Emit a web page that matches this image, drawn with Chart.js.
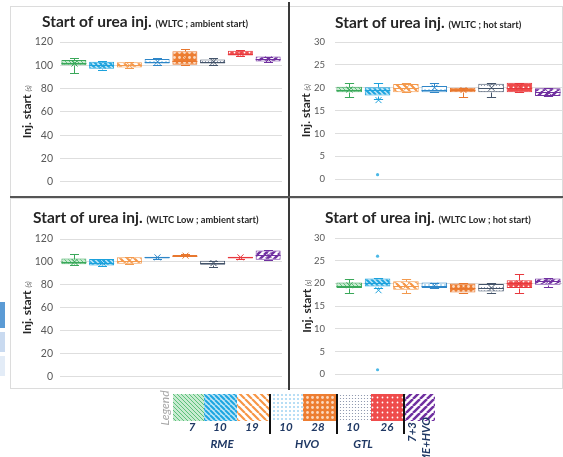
<!DOCTYPE html>
<html>
<head>
<meta charset="utf-8">
<script src="https://cdn.jsdelivr.net/npm/chart.js@4.4.1/dist/chart.umd.min.js"></script>
<style>
  body { margin: 0; background: #fff; }
  #page { position: relative; width: 563px; height: 457px; overflow: hidden; background: #fff; }
  canvas { position: absolute; }
  .frame { position: absolute; border: 1px solid #dcdcdc; box-sizing: border-box; }
  .rule { position: absolute; background: #3a3a3a; }
  .tab { position: absolute; left: 0; width: 5px; }
</style>
</head>
<body>
<div id="page">
  <div class="frame" style="left:10px; top:6px; width:280px; height:191px;"></div>
  <div class="frame" style="left:289px; top:6px; width:274px; height:191px;"></div>
  <div class="frame" style="left:10px; top:198px; width:280px; height:191px;"></div>
  <div class="frame" style="left:289px; top:198px; width:274px; height:191px;"></div>
  <div class="rule" style="left:288px; top:2px; width:2px; height:388px;"></div>
  <div class="rule" style="left:10px; top:196px; width:553px; height:2px; background:#555;"></div>
  <div class="tab" style="top:302px; height:26px; background:#5b9bd5;"></div>
  <div class="tab" style="top:332px; height:20px; background:#c9daf0;"></div>
  <div class="tab" style="top:356px; height:20px; background:#e3ecf7;"></div>

  <canvas id="c1" width="276" height="195" style="left:12px; top:0px;"></canvas>
  <canvas id="c2" width="272" height="195" style="left:291px; top:0px;"></canvas>
  <canvas id="c3" width="276" height="191" style="left:12px; top:199px;"></canvas>
  <canvas id="c4" width="272" height="191" style="left:291px; top:199px;"></canvas>
  <canvas id="legend" width="563" height="72" style="left:0px; top:385px;"></canvas>
</div>
<script>
// fuels, in the order they appear on every panel
const categories = ['RME 7', 'RME 10', 'RME 19', 'HVO 10', 'HVO 28', 'GTL 10', 'GTL 26', 'RME+HVO 7+3'];
const legendNumbers = ['7', '10', '19', '10', '28', '10', '26'];
const legendGroups = ['RME', 'HVO', 'GTL'];

// WLTC, ambient start (s)
const ambMin = [93, 96, 98, 100, 100, 100, 108, 103];
const ambQ1 = [100, 97, 98, 101.5, 100.5, 101.5, 108.5, 103.2];
const ambMed = [102, 100, 100, 103, 104, 103, 110, 105];
const ambQ3 = [104.5, 103, 102.5, 105.5, 112, 105, 112.5, 107.5];
const ambMax = [106, 103.5, 103, 106, 114, 106, 113, 107.5];
const ambMean = [101.5, 99.5, 100, 103, 106, 103, 110.5, 105];

// WLTC, hot start (s)
const hotMin = [18, 17.5, 19, 19, 18, 18, 19, 18.2];
const hotQ1 = [19, 18.3, 19, 19, 19, 19, 19, 18.2];
const hotMed = [19.5, 19.5, 20, 19.5, 19.5, 20, 20, 19];
const hotQ3 = [20.2, 20.1, 20.8, 20.4, 20, 20.9, 21.1, 19.9];
const hotMax = [21, 21, 21, 21, 20, 21.1, 21.1, 19.9];
const hotMean = [19.6, 17.3, 20, 20, 19.5, 20, 20.2, 19];
const hotOutliers = [[], [1], [], [], [], [], [], []];

// WLTC Low, ambient start (s)
const lowAmbMin = [97, 96.5, 98.5, 103, 105, 96, 103, 102];
const lowAmbQ1 = [98, 97, 98.5, 103, 105, 97.5, 103, 102];
const lowAmbMed = [100, 99.5, 101, 104, 105.5, 99, 104, 106];
const lowAmbQ3 = [103, 102.5, 104, 104.5, 106, 101, 104.5, 110];
const lowAmbMax = [106.5, 103, 104, 104.5, 106.5, 101, 104.5, 110.5];
const lowAmbMean = [100, 99.5, 101, 104, 105.5, 99, 104, 106];

// WLTC Low, hot start (s)
const lowHotMin = [18, 19, 18, 19, 18, 18, 18, 19.2];
const lowHotQ1 = [19, 19.3, 18.6, 19, 18, 18.2, 19, 19.7];
const lowHotMed = [19.5, 20, 19.5, 19.5, 19, 19, 20, 20.5];
const lowHotQ3 = [20.2, 21.1, 20.5, 20.2, 20, 19.9, 20.7, 21.1];
const lowHotMax = [21, 21.1, 21, 20.2, 20, 20, 22, 21.1];
const lowHotMean = [19.6, 18.5, 19.5, 19.5, 19, 19, 20, 20.5];
const lowHotOutliers = [[], [26, 1], [], [], [], [], [], []];

const seriesColors = ['#3aa85a', '#1ba1dc', '#f39a4e', '#2e86c8', '#e8772e', '#44546a', '#e8383d', '#7030a0'];
const fillStyles = [
  { kind: 'back', size: 4, w: 1, fg: '#5cc17a', bg: '#c8ebd1' },
  { kind: 'back', size: 5, w: 2, fg: '#1ea5e0', bg: '#bfe6f7' },
  { kind: 'back', size: 7, w: 2.2, fg: '#f79646', bg: '#ffffff' },
  { kind: 'dots', size: 4, r: 0.8, fg: '#5fb3e8', bg: '#ffffff' },
  { kind: 'dots', size: 5, r: 1.4, fg: '#fbd9c0', bg: '#ed7d31' },
  { kind: 'dots', size: 3, r: 0.6, fg: '#7f8aa3', bg: '#ffffff' },
  { kind: 'dots', size: 5, r: 0.9, fg: '#ffffff', bg: '#ef4b4b' },
  { kind: 'fwd', size: 7, w: 2.5, fg: '#7030a0', bg: '#ffffff' }
];

function makePattern(st) {
  const c = document.createElement('canvas');
  const s = st.size;
  c.width = c.height = s;
  const g = c.getContext('2d');
  g.fillStyle = st.bg;
  g.fillRect(0, 0, s, s);
  g.strokeStyle = st.fg;
  g.fillStyle = st.fg;
  if (st.kind === 'dots') {
    g.beginPath();
    g.arc(s / 2, s / 2, st.r, 0, Math.PI * 2);
    g.fill();
  } else {
    g.lineWidth = st.w;
    g.beginPath();
    for (let k = -1; k <= 1; k++) {
      if (st.kind === 'back') {
        g.moveTo(k * s, 0); g.lineTo(k * s + s, s);
      } else {
        g.moveTo(k * s, s); g.lineTo(k * s + s, 0);
      }
    }
    g.stroke();
  }
  return g.createPattern(c, 'repeat');
}

const patterns = fillStyles.map(makePattern);

// whiskers, medians, means and outliers on top of the Q1-Q3 bars
const boxWhiskers = {
  id: 'boxWhiskers',
  afterDatasetsDraw(chart, args, opts) {
    const ctx = chart.ctx;
    const y = chart.scales.y;
    const bars = chart.getDatasetMeta(0).data;
    ctx.save();
    bars.forEach((bar, i) => {
      const col = seriesColors[i];
      const half = bar.width / 2;
      const cap = bar.width * 0.18;
      const x = Math.round(bar.x) + 0.5;
      const py = v => Math.round(y.getPixelForValue(v)) + 0.5;
      ctx.strokeStyle = col;
      ctx.lineWidth = 1;
      ctx.beginPath();
      ctx.moveTo(x, py(opts.q3[i])); ctx.lineTo(x, py(opts.max[i]));
      ctx.moveTo(x - cap, py(opts.max[i])); ctx.lineTo(x + cap, py(opts.max[i]));
      ctx.moveTo(x, py(opts.q1[i])); ctx.lineTo(x, py(opts.min[i]));
      ctx.moveTo(x - cap, py(opts.min[i])); ctx.lineTo(x + cap, py(opts.min[i]));
      ctx.moveTo(bar.x - half, py(opts.med[i])); ctx.lineTo(bar.x + half, py(opts.med[i]));
      ctx.stroke();
      // mean marker
      const my = y.getPixelForValue(opts.mean[i]);
      ctx.beginPath();
      ctx.moveTo(x - 3, my - 3); ctx.lineTo(x + 3, my + 3);
      ctx.moveTo(x - 3, my + 3); ctx.lineTo(x + 3, my - 3);
      ctx.stroke();
      (opts.outliers ? opts.outliers[i] : []).forEach(v => {
        ctx.fillStyle = '#4bb8e6';
        ctx.beginPath();
        ctx.arc(bar.x, y.getPixelForValue(v), 1.6, 0, Math.PI * 2);
        ctx.fill();
      });
    });
    ctx.restore();
  }
};

// panel heading and rotated axis caption, each in two type sizes
const panelText = {
  id: 'panelText',
  afterDraw(chart, args, opts) {
    const ctx = chart.ctx;
    ctx.save();
    ctx.fillStyle = '#262626';
    ctx.textBaseline = 'alphabetic';
    ctx.textAlign = 'left';
    ctx.font = 'bold 15.5px Lato';
    ctx.fillText(opts.title, opts.tx, opts.ty);
    const w = ctx.measureText(opts.title + ' ').width;
    ctx.font = 'bold 9.3px Lato';
    ctx.fillText(opts.sub, opts.tx + w, opts.ty);

    const area = chart.chartArea;
    const cy = (area.top + area.bottom) / 2;
    ctx.translate(opts.ax, cy);
    ctx.rotate(-Math.PI / 2);
    ctx.font = 'bold 12px Lato';
    const main = 'Inj. start ';
    const mw = ctx.measureText(main).width;
    ctx.font = 'italic 7px Lato';
    const uw = ctx.measureText('(s)').width;
    const x0 = -(mw + uw) / 2;
    ctx.font = 'bold 12px Lato';
    ctx.fillText(main, x0, 4);
    ctx.font = 'italic 7px Lato';
    ctx.fillStyle = '#595959';
    ctx.fillText('(s)', x0 + mw, 4);
    ctx.restore();
  }
};

function makeChart(id, p) {
  return new Chart(document.getElementById(id), {
    type: 'bar',
    data: {
      labels: categories,
      datasets: [{
        data: p.q1.map((v, i) => [v, p.q3[i]]),
        backgroundColor: patterns,
        borderColor: seriesColors,
        borderWidth: 1,
        borderSkipped: false,
        barPercentage: 0.9,
        categoryPercentage: 1
      }]
    },
    options: {
      responsive: false,
      animation: false,
      layout: { padding: p.pad },
      plugins: {
        legend: { display: false },
        tooltip: { enabled: false },
        boxWhiskers: p,
        panelText: p.text
      },
      scales: {
        x: { display: false },
        y: {
          min: 0,
          max: p.top,
          ticks: { stepSize: p.step, padding: p.tickPad, color: '#595959', font: { family: 'Lato', size: p.tickSize } },
          grid: { color: '#dedede', drawTicks: false },
          border: { display: false },
          afterFit(scale) { scale.width = p.axisW; }
        }
      }
    },
    plugins: [boxWhiskers, panelText]
  });
}

makeChart('c1', {
  min: ambMin, q1: ambQ1, med: ambMed, q3: ambQ3, max: ambMax, mean: ambMean,
  top: 120, step: 20, axisW: 48, tickPad: 7, tickSize: 10.5,
  pad: { top: 42, bottom: 12, left: 0, right: 6 },
  text: { title: 'Start of urea inj.', sub: '(WLTC ; ambient start)', tx: 30, ty: 27, ax: 15 }
});
makeChart('c2', {
  min: hotMin, q1: hotQ1, med: hotMed, q3: hotQ3, max: hotMax, mean: hotMean, outliers: hotOutliers,
  top: 30, step: 5, axisW: 44, tickPad: 10, tickSize: 9.5,
  pad: { top: 42, bottom: 12, left: 0, right: 1 },
  text: { title: 'Start of urea inj.', sub: '(WLTC ; hot start)', tx: 44, ty: 28, ax: 15 }
});
makeChart('c3', {
  min: lowAmbMin, q1: lowAmbQ1, med: lowAmbMed, q3: lowAmbQ3, max: lowAmbMax, mean: lowAmbMean,
  top: 120, step: 20, axisW: 48, tickPad: 7, tickSize: 10.5,
  pad: { top: 40, bottom: 12, left: 0, right: 6 },
  text: { title: 'Start of urea inj.', sub: '(WLTC Low ; ambient start)', tx: 21, ty: 24, ax: 15 }
});
makeChart('c4', {
  min: lowHotMin, q1: lowHotQ1, med: lowHotMed, q3: lowHotQ3, max: lowHotMax, mean: lowHotMean, outliers: lowHotOutliers,
  top: 30, step: 5, axisW: 44, tickPad: 10, tickSize: 9.5,
  pad: { top: 39, bottom: 12, left: 0, right: 1 },
  text: { title: 'Start of urea inj.', sub: '(WLTC Low ; hot start)', tx: 34, ty: 24, ax: 16 }
});

// fuel key under the panels
(function drawLegend() {
  const g = document.getElementById('legend').getContext('2d');
  const oy = 385;
  const swatchX = [[173, 204], [204, 237], [237, 270], [271, 303], [303, 336], [338, 371], [371, 403], [405, 435]];
  swatchX.forEach((s, i) => {
    g.fillStyle = patterns[i];
    g.fillRect(s[0], 394 - oy, s[1] - s[0], 27);
  });
  g.fillStyle = '#111';
  [269, 336, 403].forEach(x => g.fillRect(x, 394 - oy, 2, 40));

  g.fillStyle = '#1f3864';
  g.textAlign = 'center';
  g.textBaseline = 'alphabetic';
  g.font = 'italic bold 11.5px Lato';
  const numX = [192, 220, 252, 286, 318, 353, 387];
  legendNumbers.forEach((t, i) => g.fillText(t, numX[i], 431 - oy));
  const groupX = [222, 307, 363];
  legendGroups.forEach((t, i) => g.fillText(t, groupX[i], 448 - oy));

  g.save();
  g.translate(416, 432 - oy);
  g.rotate(-Math.PI / 2);
  g.fillText('7+3', 0, 0);
  g.restore();
  g.save();
  g.translate(430, 444 - oy);
  g.rotate(-Math.PI / 2);
  g.fillText('RME+HVO', 0, 0);
  g.restore();

  g.save();
  g.translate(169, 408 - oy);
  g.rotate(-Math.PI / 2);
  g.fillStyle = '#a6a6a6';
  g.font = 'italic 12px Lato';
  g.fillText('Legend', 0, 0);
  g.restore();
})();
</script>
</body>
</html>
